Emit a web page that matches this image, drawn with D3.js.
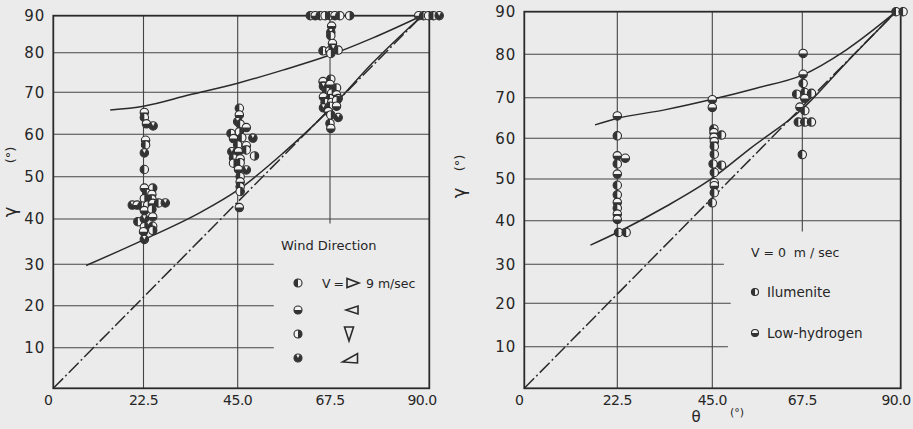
<!DOCTYPE html>
<html>
<head>
<meta charset="utf-8">
<script src="https://cdn.jsdelivr.net/npm/d3@7"></script>
<style>
  html, body { margin: 0; padding: 0; background: #ebebeb; }
  svg { display: block; }
  text { font-family: "DejaVu Sans", sans-serif; fill: #262626; }
</style>
</head>
<body>
<svg id="fig" width="913" height="429"></svg>
<script>
// ---------- shared axis values ----------
const thetaTicks = [0, 22.5, 45, 67.5, 90];
const thetaTickLabels = ["0", "22.5", "45.0", "67.5", "90.0"];
const gammaTicks = [0, 10, 20, 30, 40, 50, 60, 70, 80, 90];
const gammaTickLabels = ["", "10", "20", "30", "40", "50", "60", "70", "80", "90"];

// ---------- left panel: wind V = 9 m/sec, four wind directions ----------
// [theta, gamma, direction code]  a: ▷  b: ◁  c: ▽  d: wedge
const windTheta22 = [
  [22.7,65.2,"b"],[22.7,64.0,"a"],[23.2,62.5,"b"],[24.8,62.0,"d"],
  [23.0,58.6,"b"],[23.0,57.5,"a"],[22.7,55.6,"d"],[22.7,51.7,"a"],
  [22.7,47.3,"b"],[24.7,47.3,"c"],[23.3,46.1,"a"],[24.5,45.8,"b"],
  [22.7,44.8,"c"],[24.5,44.7,"a"],
  [19.7,43.3,"d"],[20.9,43.3,"b"],[22.1,43.1,"a"],[23.5,43.3,"c"],
  [24.7,43.7,"b"],[26.1,43.8,"a"],[27.7,43.8,"d"],
  [22.7,42.0,"b"],[24.5,42.3,"c"],
  [21.1,39.4,"a"],[22.7,40.0,"d"],[24.7,40.5,"b"],
  [22.7,38.3,"c"],[24.7,38.4,"a"],[22.5,37.2,"b"],[24.7,37.5,"c"],
  [22.7,35.5,"d"]
];
const windTheta45 = [
  [45.4,66.2,"a"],[45.4,64.6,"b"],[45.0,63.0,"d"],[45.6,62.4,"a"],[47.1,61.6,"b"],
  [45.4,60.6,"c"],[43.4,60.2,"a"],
  [44.0,59.0,"b"],[46.0,59.2,"a"],[48.7,59.1,"d"],
  [45.0,57.5,"a"],[47.1,57.3,"b"],
  [43.6,55.9,"d"],[45.2,55.9,"b"],[47.1,56.3,"a"],[49.1,54.9,"c"],
  [44.0,54.4,"a"],[45.6,54.2,"b"],[44.0,53.2,"c"],[45.6,53.3,"a"],
  [45.2,51.7,"b"],[47.1,51.6,"d"],
  [45.6,50.0,"a"],[45.6,48.8,"b"],[45.6,47.6,"a"],[45.6,46.5,"c"],
  [45.4,42.7,"b"]
];
const windTheta67 = [
  [62.7,90,"a"],[63.9,90,"b"],[65.1,90,"a"],[66.3,90,"c"],
  [67.5,90,"a"],[68.7,90,"b"],[69.9,90,"a"],[72.3,90,"c"],
  [67.9,87.2,"b"],[67.7,85.5,"d"],[67.7,84.6,"a"],[68.1,82.5,"b"],
  [65.8,80.5,"a"],[67.4,80.5,"b"],[68.3,81.1,"d"],[69.5,80.7,"a"],[67.7,79.8,"c"],
  [65.8,72.7,"b"],[67.7,73.3,"a"],
  [65.9,71.5,"d"],[67.5,72.0,"b"],[69.1,71.1,"a"],
  [66.7,70.2,"a"],[67.9,69.8,"c"],[69.1,69.4,"b"],
  [65.9,68.9,"b"],[67.5,68.5,"a"],[69.5,68.5,"d"],
  [66.3,67.6,"a"],[67.9,67.6,"b"],[69.1,68.1,"c"],
  [65.9,66.3,"d"],[67.5,66.7,"a"],[69.1,66.7,"b"],
  [67.1,65.4,"b"],[69.5,64.0,"d"],
  [67.7,64.6,"c"],[67.5,62.6,"a"],[67.7,61.4,"b"]
];
const windTheta90 = [
  [89.2,90,"b"],[90.4,90,"a"],[91.6,90,"c"],[92.8,90,"a"],[94.2,90,"d"]
];
const windUpperCurve = [[14.2,65.8],[22.5,66.7],[33.5,69.4],[45,72.3],[56,75.6],[67.5,79.4],[78,84],[90,90]];
const windLowerCurve = [[8.2,29.7],[22.5,35.4],[36,41.5],[45,46.8],[56,55.5],[67.5,66.0],[78,77.5],[90,90]];

// ---------- right panel: calm, V = 0 m/sec, two electrode types ----------
// [theta, gamma, electrode]  I: Ilumenite  H: Low-hydrogen
const calmTheta22 = [
  [22.5,65.5,"H"],[22.5,60.6,"I"],[22.5,55.7,"H"],[24.4,55.1,"H"],[22.5,53.7,"I"],
  [22.5,51.2,"H"],[22.5,48.5,"I"],[22.5,46.2,"I"],[22.5,44.4,"H"],[22.5,43.0,"I"],
  [22.5,41.6,"H"],[22.5,40.3,"H"],[22.8,37.3,"I"],[24.6,37.3,"I"]
];
const calmTheta45 = [
  [45.0,69.5,"H"],[45.0,67.6,"H"],[45.4,62.3,"I"],[45.4,61.4,"H"],[47.3,60.8,"I"],
  [45.4,60.2,"H"],[45.5,59.2,"H"],[45.5,58.0,"I"],[45.5,56.1,"I"],[45.2,53.7,"I"],
  [47.3,53.4,"I"],[45.5,51.6,"I"],[45.5,49.1,"H"],[45.5,48.4,"H"],[45.5,46.7,"I"],
  [45.0,44.3,"I"]
];
const calmTheta67 = [
  [67.7,80.2,"H"],[67.7,75.4,"H"],[67.7,73.3,"I"],[66.1,70.8,"I"],[68.1,71.2,"I"],
  [69.7,71.0,"I"],[68.1,69.8,"H"],[66.9,67.7,"H"],[68.1,66.8,"I"],[66.5,64.0,"I"],
  [68.1,64.0,"I"],[69.7,64.0,"I"],[67.5,56.0,"I"]
];
const calmTheta90 = [[90.0,90,"I"],[91.7,90,"I"]];
const calmUpperCurve = [[17.1,63.3],[22.5,64.9],[33.7,67.0],[45,69.6],[56,72.2],[67.5,75.2],[78,81],[90,90]];
const calmLowerCurve = [[16,34.4],[22.5,37.3],[34,43.4],[45,50.2],[54.6,57.6],[67.5,67.2],[78,78],[90,90]];

const identityLine = [[0,0],[90,90]];

// ---------- drawing ----------
const svg = d3.select("#fig");
const ink = "#2a2a2a";

// circle marker with a partly filled face
const half = d3.arc().innerRadius(0);
function drawMarker(g, cx, cy, kind, r) {
  const m = g.append("g").attr("transform", `translate(${cx},${cy})`);
  m.append("circle").attr("r", r).attr("fill", "#f2f2f2").attr("stroke", ink).attr("stroke-width", 1.1);
  const arcs = {
    a: [Math.PI, 2 * Math.PI],          // left half
    b: [Math.PI / 2, 1.5 * Math.PI],    // lower half
    c: [0, Math.PI],                    // right half
    d: [Math.PI * 0.15, Math.PI * 1.85] // nearly full
  };
  const [s, e] = arcs[kind];
  m.append("path").attr("d", half({outerRadius: r, startAngle: s, endAngle: e})).attr("fill", "#333");
}

function panel(cfg) {
  const g = svg.append("g");
  const x = d3.scaleLinear().domain(thetaTicks).range(cfg.xRange);
  const y = d3.scaleLinear().domain(gammaTicks).range(cfg.yRange);
  const x0 = x(0), y0 = y(0), yTop = y(90), xRight = cfg.frameRight;

  // horizontal grid
  gammaTicks.slice(1, 9).forEach(v => {
    const xEnd = v <= 30 ? x(cfg.shortGrid[v]) : xRight;
    g.append("line").attr("x1", x0).attr("x2", xEnd).attr("y1", y(v)).attr("y2", y(v))
      .attr("stroke", "#444").attr("stroke-width", 1.1);
  });
  // vertical grid
  [22.5, 45].forEach(v => g.append("line").attr("x1", x(v)).attr("x2", x(v))
    .attr("y1", yTop).attr("y2", y0).attr("stroke", "#444").attr("stroke-width", 1.1));
  g.append("line").attr("x1", x(67.5)).attr("x2", x(67.5)).attr("y1", yTop).attr("y2", y(cfg.stop675))
    .attr("stroke", "#444").attr("stroke-width", 1.1);

  // frame
  g.append("rect").attr("x", x0).attr("y", yTop).attr("width", xRight - x0).attr("height", y0 - yTop)
    .attr("fill", "none").attr("stroke", ink).attr("stroke-width", 1.8);

  // tick labels
  gammaTicks.forEach((v, i) => {
    if (!gammaTickLabels[i]) return;
    g.append("text").attr("x", x0 - 8).attr("y", y(v)).attr("dy", "0.36em")
      .attr("text-anchor", "end").attr("font-size", 15).attr("letter-spacing", 1)
      .text(gammaTickLabels[i]);
  });
  thetaTicks.forEach((v, i) => {
    g.append("text").attr("x", x(v) + (v === 0 ? -5 : 0)).attr("y", 405)
      .attr("text-anchor", "middle").attr("font-size", 14).attr("letter-spacing", -0.5)
      .text(thetaTickLabels[i]);
  });

  // y title, reading upward
  g.append("text").attr("transform", `translate(${cfg.yTitle[0]},${cfg.yTitle[1]}) rotate(-90)`)
    .attr("text-anchor", "middle").attr("dy", "0.35em").attr("font-size", 18).text("γ");
  g.append("text").attr("transform", `translate(${cfg.yTitle[0]},${cfg.yTitle[2]}) rotate(-90)`)
    .attr("text-anchor", "middle").attr("dy", "0.35em").attr("font-size", 13).text("(°)");

  // fitted curves and identity line
  const line = d3.line().x(d => x(d[0])).y(d => y(d[1]));
  const smooth = d3.line().x(d => x(d[0])).y(d => y(d[1])).curve(d3.curveMonotoneX);
  g.append("path").attr("d", line(identityLine)).attr("fill", "none").attr("stroke", ink)
    .attr("stroke-width", 1.5).attr("stroke-dasharray", "14,3,2,3");
  cfg.curves.forEach(c => g.append("path").attr("d", smooth(c)).attr("fill", "none")
    .attr("stroke", ink).attr("stroke-width", 1.5));

  // measured points
  cfg.points.forEach(set => set.forEach(d => drawMarker(g, x(d[0]), y(d[1]), cfg.kind(d[2]), 4.2)));
  return {g, x, y};
}

// left panel
const left = panel({
  xRange: [53.3, 143.5, 237.7, 330, 422],
  yRange: [388.3, 347.7, 305.7, 264.3, 219, 176.7, 134.3, 92.3, 52.7, 15.7],
  frameRight: 429.3,
  shortGrid: {10: 53.8, 20: 53.8, 30: 53.8},
  stop675: 39,
  yTitle: [10, 212, 155],
  curves: [windUpperCurve, windLowerCurve],
  points: [windTheta22, windTheta45, windTheta67, windTheta90],
  kind: k => k
});

// right panel
const right = panel({
  xRange: [524.3, 617.3, 712.3, 802.3, 896],
  yRange: [388.3, 346.7, 303.3, 264.3, 220.7, 179, 138.3, 97.7, 54.3, 11.7],
  frameRight: 900.7,
  shortGrid: {10: 48.9, 20: 49.6, 30: 47.9},
  stop675: 37.5,
  yTitle: [459, 193, 163],
  curves: [calmUpperCurve, calmLowerCurve],
  points: [calmTheta22, calmTheta45, calmTheta67, calmTheta90],
  kind: k => (k === "I" ? "a" : "b")
});

// x title on the right panel
right.g.append("text").attr("x", 696).attr("y", 422).attr("text-anchor", "middle").attr("font-size", 15).text("θ");
right.g.append("text").attr("x", 737).attr("y", 416).attr("text-anchor", "middle").attr("font-size", 11).text("(°)");

// ---------- legends ----------
const windLegendRows = ["a", "b", "c", "d"];
const windArrowShapes = {
  a: [[-6,-4.5],[-6,4.5],[6,0]],      // ▷
  b: [[6,-4],[6,4],[-6,0]],           // ◁
  c: [[-4.5,-7],[4.5,-7],[0,7]],      // ▽
  d: [[-7.5,4],[7.5,-4.5],[7.5,5]]    // wedge
};
const lg = left.g;
lg.append("text").attr("x", 281).attr("y", 250).attr("font-size", 13).text("Wind Direction");
const windRowY = [283, 310, 334, 358];
windLegendRows.forEach((k, i) => {
  drawMarker(lg, 298, windRowY[i], k, 4);
  const ax = [353, 352, 349, 350][i];
  lg.append("path")
    .attr("d", d3.line()(windArrowShapes[k].map(p => [ax + p[0], windRowY[i] + p[1]])) + "Z")
    .attr("fill", "none").attr("stroke", ink).attr("stroke-width", 1.6);
});
lg.append("text").attr("x", 322).attr("y", 288).attr("font-size", 12.5).attr("letter-spacing", -0.5).text("V =");
lg.append("text").attr("x", 366).attr("y", 288).attr("font-size", 12.5).text("9 m/sec");

const rg = right.g;
rg.append("text").attr("x", 751).attr("y", 257).attr("font-size", 12.5).style("white-space", "pre").text("V = 0  m / sec");
const calmLegend = [["I", "Ilumenite", 292], ["H", "Low-hydrogen", 333]];
calmLegend.forEach(([k, label, yy]) => {
  drawMarker(rg, 755, yy, k === "I" ? "a" : "b", 3.5);
  rg.append("text").attr("x", 767).attr("y", yy).attr("dy", "0.36em").attr("font-size", 13.5).text(label);
});
</script>
</body>
</html>
